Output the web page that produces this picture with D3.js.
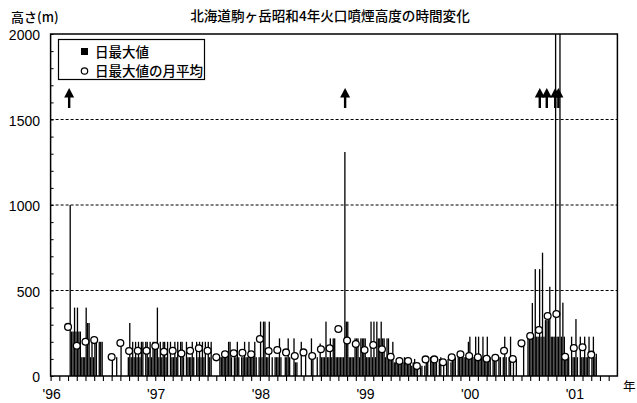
<!DOCTYPE html>
<html>
<head>
<meta charset="utf-8">
<script src="https://cdn.jsdelivr.net/npm/d3@7"></script>
<style>
body { margin: 0; background: #fff; }
text { font-family: "Liberation Sans", Arial, sans-serif; fill: #000; }
.jp { font-family: "Noto Sans CJK JP", sans-serif; }
</style>
</head>
<body>
<svg id="vis"></svg>
<script>
// 日最大値: one row per month, 6 values per month (about 5 days each), m. 0 = no data
const dailyMax1996 = [
  [0, 0, 0, 0, 0, 0],
  [0, 0, 0, 0, 0, 0],
  [0, 1000, 260, 260, 400, 260],
  [400, 260, 260, 110, 110, 110],
  [400, 310, 310, 110, 200, 110],
  [200, 200, 0, 200, 200, 200],
  [0, 0, 0, 0, 0, 0],
  [110, 0, 0, 110, 0, 0],
  [200, 0, 0, 0, 0, 110],
  [310, 110, 200, 110, 200, 110],
  [200, 110, 200, 200, 0, 200],
  [200, 110, 200, 110, 200, 200]
];
const dailyMax1997 = [
  [200, 400, 110, 200, 110, 200],
  [200, 110, 200, 0, 200, 110],
  [110, 200, 110, 200, 0, 200],
  [200, 110, 0, 200, 110, 110],
  [110, 200, 110, 0, 200, 110],
  [200, 110, 200, 110, 200, 0],
  [200, 110, 200, 0, 0, 0],
  [0, 0, 110, 110, 110, 110],
  [110, 110, 200, 200, 110, 0],
  [110, 110, 200, 110, 0, 110],
  [110, 200, 110, 110, 200, 110],
  [110, 110, 200, 110, 0, 110]
];
const dailyMax1998 = [
  [318, 110, 318, 318, 110, 110],
  [318, 0, 110, 0, 110, 110],
  [110, 220, 110, 0, 0, 110],
  [110, 220, 110, 0, 0, 220],
  [80, 80, 0, 0, 200, 0],
  [0, 150, 0, 0, 0, 220],
  [110, 0, 0, 110, 0, 190],
  [110, 110, 110, 318, 110, 110],
  [220, 110, 220, 220, 110, 110],
  [110, 110, 110, 110, 1310, 318],
  [318, 110, 110, 110, 110, 220],
  [220, 220, 110, 220, 220, 220]
];
const dailyMax1999 = [
  [220, 110, 110, 110, 318, 110],
  [318, 110, 318, 220, 220, 318],
  [220, 220, 110, 220, 220, 110],
  [110, 200, 80, 80, 80, 80],
  [110, 80, 80, 110, 80, 80],
  [80, 100, 60, 80, 100, 60],
  [60, 0, 50, 60, 0, 60],
  [110, 100, 0, 110, 80, 110],
  [100, 80, 0, 100, 110, 0],
  [80, 0, 80, 100, 0, 80],
  [110, 110, 110, 0, 110, 110],
  [110, 110, 110, 110, 110, 200]
];
const dailyMax2000 = [
  [230, 110, 110, 110, 230, 110],
  [230, 110, 110, 230, 110, 110],
  [230, 110, 110, 0, 110, 110],
  [110, 0, 110, 110, 0, 110],
  [230, 110, 0, 110, 230, 0],
  [100, 0, 100, 0, 0, 0],
  [0, 190, 0, 0, 230, 230],
  [230, 427, 230, 625, 230, 230],
  [625, 230, 721, 230, 327, 327],
  [327, 522, 230, 230, 230, 2100],
  [230, 230, 2100, 230, 429, 230],
  [110, 110, 110, 0, 230, 110]
];
const dailyMax2001 = [
  [110, 333, 110, 0, 230, 110],
  [110, 230, 110, 110, 230, 0],
  [110, 230, 110, 130, 0, 0],
  [0, 0, 0, 0, 0, 0],
  [0, 0, 0, 0, 0, 0]
];

// 日最大値の月平均: [month index from Jan 1996, m]
const monthlyAverage = [
  [2, 287], [3, 177], [4, 200], [5, 210], [7, 111], [8, 193], [9, 146], [10, 148], [11, 148],
  [12, 175], [13, 142], [14, 148], [15, 132], [16, 148], [17, 162], [18, 148], [19, 109],
  [20, 127], [21, 133], [22, 136], [23, 127], [24, 216], [25, 146], [26, 152], [27, 138],
  [28, 117], [29, 138], [30, 117], [31, 156], [32, 162], [33, 275], [34, 207], [35, 187],
  [36, 152], [37, 181], [38, 156], [39, 113], [40, 88], [41, 88], [42, 58], [43, 97],
  [44, 97], [45, 80], [46, 109], [47, 127], [48, 117], [49, 109], [50, 101], [51, 107],
  [52, 148], [53, 99], [54, 191], [55, 234], [56, 269], [57, 351], [58, 363], [59, 113],
  [60, 164], [61, 168], [62, 125]
];

// 噴火 (arrows)
const eruptions = ["1996-03-05", "1998-10-25", "2000-09-04", "2000-09-28", "2000-10-28", "2000-11-08"];

const yearLabels = ["'96", "'97", "'98", "'99", "'00", "'01"];
const yTicks = [0, 500, 1000, 1500, 2000];
const gridValues = [500, 1000, 1500];
const titleText = "北海道駒ヶ岳昭和4年火口噴煙高度の時間変化";
const yTitle = "高さ(m)";
const legendLabels = ["日最大値", "日最大値の月平均"];

const WIDTH = 637;
const HEIGHT = 403;
const SLOTS = 6;
const MONTHS = 65;

const svg = d3.select("#vis")
    .attr("width", WIDTH)
    .attr("height", HEIGHT);

const x = d3.scaleLinear().domain([0, MONTHS]).range([50.6, 617.4]);
const y = d3.scaleLinear().domain([0, 2000]).range([376, 34]).clamp(true);

// flatten yearly tables into bars
const years = [dailyMax1996, dailyMax1997, dailyMax1998, dailyMax1999, dailyMax2000, dailyMax2001];
const bars = [];
years.forEach((rows, yi) => {
    rows.forEach((vals, mi) => {
        vals.forEach((v, si) => {
            if (v > 0) bars.push({ m: yi * 12 + mi + si / SLOTS, v: v });
        });
    });
});

function monthPos(s) {
    const [yy, mm, dd] = s.split("-").map(Number);
    const days = new Date(yy, mm, 0).getDate();
    return (yy - 1996) * 12 + (mm - 1) + (dd - 1) / days;
}

// grid lines
svg.append("g")
    .selectAll("line")
    .data(gridValues)
    .join("line")
    .attr("x1", x(0))
    .attr("x2", x(MONTHS))
    .attr("y1", d => y(d))
    .attr("y2", d => y(d))
    .attr("stroke", "#000")
    .attr("stroke-width", 1.1)
    .attr("stroke-dasharray", "3,2");

// daily max bars
const slotW = x(1 / SLOTS) - x(0);
svg.append("g")
    .selectAll("rect")
    .data(bars)
    .join("rect")
    .attr("x", d => x(d.m) + 0.05)
    .attr("width", slotW - 0.15)
    .attr("y", d => y(d.v))
    .attr("height", d => y(0) - y(d.v))
    .attr("fill", "#000");

// monthly averages
svg.append("g")
    .selectAll("circle")
    .data(monthlyAverage)
    .join("circle")
    .attr("cx", d => x(d[0]))
    .attr("cy", d => y(d[1]))
    .attr("r", 3.4)
    .attr("fill", "#fff")
    .attr("stroke", "#000")
    .attr("stroke-width", 1.3);

// eruption arrows
const arrows = svg.append("g")
    .selectAll("g")
    .data(eruptions)
    .join("g")
    .attr("transform", d => `translate(${x(monthPos(d))},88)`);
arrows.append("path")
    .attr("d", "M0,0 L-5,9.5 L5,9.5 Z")
    .attr("fill", "#000");
arrows.append("rect")
    .attr("x", -1.2)
    .attr("y", 8)
    .attr("width", 2.4)
    .attr("height", 12)
    .attr("fill", "#000");

// frame
svg.append("rect")
    .attr("x", x(0))
    .attr("y", y(2000))
    .attr("width", x(MONTHS) - x(0))
    .attr("height", y(0) - y(2000))
    .attr("fill", "none")
    .attr("stroke", "#000")
    .attr("stroke-width", 1.5);

// y axis: inward minor ticks every 100
svg.append("g")
    .attr("transform", `translate(${x(0)},0)`)
    .call(d3.axisRight(y).tickValues(d3.range(0, 2001, 100)).tickSize(3).tickFormat(""))
    .call(g => g.select(".domain").remove());

svg.append("g")
    .selectAll("text")
    .data(yTicks)
    .join("text")
    .attr("x", 40)
    .attr("y", d => y(d) + 1)
    .attr("dy", "0.36em")
    .attr("text-anchor", "end")
    .attr("font-size", 14)
    .text(d => d);

// x axis: monthly ticks
svg.append("g")
    .attr("transform", `translate(0,${y(0)})`)
    .call(d3.axisBottom(x).tickValues(d3.range(0, MONTHS)).tickSize(5).tickFormat(""))
    .call(g => g.select(".domain").remove())
    .selectAll("line").attr("stroke-width", 1.1);

svg.append("g")
    .selectAll("text")
    .data(yearLabels)
    .join("text")
    .attr("x", (d, i) => x(i * 12) + 1)
    .attr("y", 399)
    .attr("text-anchor", "middle")
    .attr("font-size", 14)
    .text(d => d);

svg.append("text")
    .attr("class", "jp")
    .attr("x", 623)
    .attr("y", 391)
    .attr("font-size", 12.5)
    .text("年");

// titles
svg.append("text")
    .attr("class", "jp")
    .attr("x", 330)
    .attr("y", 21)
    .attr("text-anchor", "middle")
    .attr("font-size", 13.6)
    .attr("font-weight", 500)
    .text(titleText);

svg.append("text")
    .attr("class", "jp")
    .attr("x", 11)
    .attr("y", 22)
    .attr("font-size", 13)
    .attr("font-weight", 500)
    .text(yTitle);

// legend
const legend = svg.append("g");
legend.append("rect")
    .attr("x", 58.5)
    .attr("y", 39.5)
    .attr("width", 146)
    .attr("height", 40)
    .attr("fill", "#fff")
    .attr("stroke", "#000")
    .attr("stroke-width", 1.2);
legend.append("rect")
    .attr("x", 81)
    .attr("y", 48)
    .attr("width", 7)
    .attr("height", 7)
    .attr("fill", "#000");
legend.append("circle")
    .attr("cx", 84.5)
    .attr("cy", 71)
    .attr("r", 3.2)
    .attr("fill", "#fff")
    .attr("stroke", "#000")
    .attr("stroke-width", 1.2);
legend.selectAll("text")
    .data(legendLabels)
    .join("text")
    .attr("class", "jp")
    .attr("x", 95)
    .attr("y", (d, i) => 57 + i * 19)
    .attr("font-size", 13.5)
    .attr("font-weight", 500)
    .text(d => d);
</script>
</body>
</html>
